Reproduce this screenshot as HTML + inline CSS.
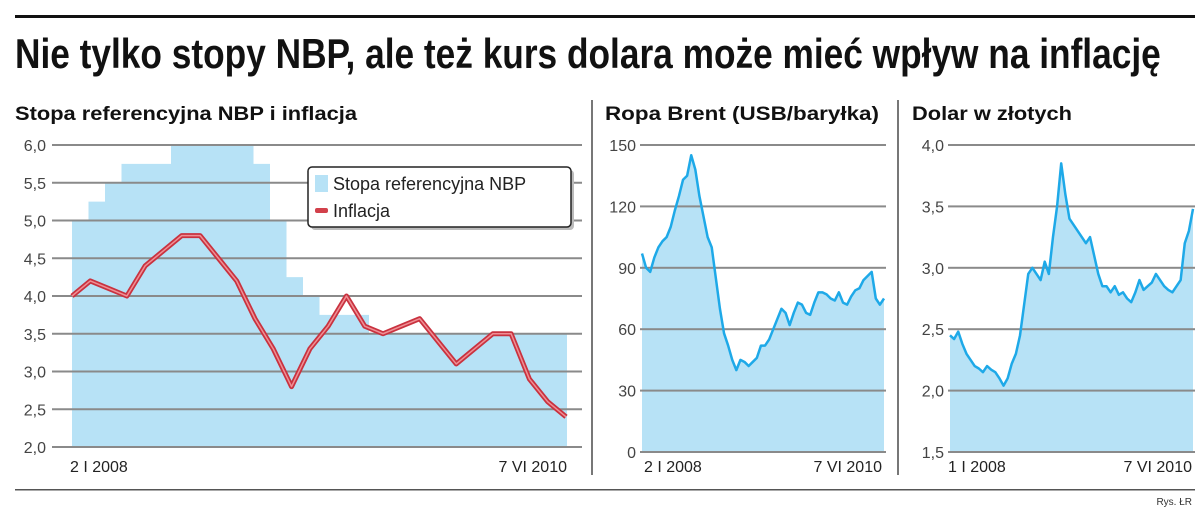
<!DOCTYPE html>
<html><head><meta charset="utf-8"><style>
html,body{margin:0;padding:0;background:#fff;width:1200px;height:513px;overflow:hidden}
svg{display:block;font-family:"Liberation Sans",sans-serif}
</style></head><body>
<svg id="root" width="1200" height="513" viewBox="0 0 1200 513">
<rect x="15" y="15" width="1180" height="3" fill="#111"/>
<text x="15" y="68" font-size="42" font-weight="bold" fill="#111" transform="translate(15 0) scale(0.84 1) translate(-15 0)">Nie tylko stopy NBP, ale też kurs dolara może mieć wpływ na inflację</text>
<text x="15" y="120" font-size="19" font-weight="bold" fill="#111" textLength="342" lengthAdjust="spacingAndGlyphs">Stopa referencyjna NBP i inflacja</text>
<text x="605" y="120" font-size="19" font-weight="bold" fill="#111" textLength="274" lengthAdjust="spacingAndGlyphs">Ropa Brent (USB/baryłka)</text>
<text x="912" y="120" font-size="19" font-weight="bold" fill="#111" textLength="160" lengthAdjust="spacingAndGlyphs">Dolar w złotych</text>
<rect x="591" y="100" width="2" height="375" fill="#777"/>
<rect x="897" y="100" width="2" height="375" fill="#777"/>
<rect x="15" y="489" width="1180" height="1.5" fill="#555"/>
<text x="1192" y="505" font-size="10" fill="#333" text-anchor="end">Rys. ŁR</text>
<g id="c1"></g><g id="c2"></g><g id="c3"></g>
</svg>
<script>
// Chart 1 data
const rateTicks = ["2,0","2,5","3,0","3,5","4,0","4,5","5,0","5,5","6,0"];
const rateMonthly = [5.0,5.25,5.5,5.75,5.75,5.75,6.0,6.0,6.0,6.0,6.0,5.75,5.0,4.25,4.0,3.75,3.75,3.75,3.5,3.5,3.5,3.5,3.5,3.5,3.5,3.5,3.5,3.5,3.5,3.5];
const inflation = [4.0,4.2,4.1,4.0,4.4,4.6,4.8,4.8,4.5,4.2,3.7,3.3,2.8,3.3,3.6,4.0,3.6,3.5,3.6,3.7,3.4,3.1,3.3,3.5,3.5,2.9,2.6,2.4];
const c1Dates = ["2 I 2008","7 VI 2010"];
// Chart 2 data
const oilTicks = ["0","30","60","90","120","150"];
const oil = [97,90,88,95,100,103,105,110,118,125,133,135,145,138,125,115,105,100,85,70,58,52,45,40,45,44,42,44,46,52,52,55,60,65,70,68,62,68,73,72,68,67,73,78,78,77,75,74,78,73,72,76,79,80,84,86,88,75,72,75];
const c2Dates = ["2 I 2008","7 VI 2010"];
// Chart 3 data
const usdTicks = ["1,5","2,0","2,5","3,0","3,5","4,0"];
const usd = [2.45,2.42,2.48,2.38,2.30,2.25,2.20,2.18,2.15,2.20,2.17,2.15,2.10,2.04,2.10,2.22,2.30,2.45,2.70,2.95,3.00,2.95,2.90,3.05,2.95,3.25,3.50,3.85,3.60,3.40,3.35,3.30,3.25,3.20,3.25,3.10,2.95,2.85,2.85,2.80,2.85,2.78,2.80,2.75,2.72,2.80,2.90,2.82,2.85,2.88,2.95,2.90,2.85,2.82,2.80,2.85,2.90,3.20,3.30,3.48];
const c3Dates = ["1 I 2008","7 VI 2010"];

const NS="http://www.w3.org/2000/svg";
function mk(parent,tag,attrs){const e=document.createElementNS(NS,tag);for(const k in attrs)e.setAttribute(k,attrs[k]);parent.appendChild(e);return e;}
const yTop=145,yBot=447;

function grid(g,x0,x1,ticks,lx,yb){
  ticks.forEach((t,i)=>{
    const y=yb-(yb-yTop)*i/(ticks.length-1);
    const l=mk(g,'rect',{x:x0,y:y-1,width:x1-x0,height:2,fill:'#8a8a8a'});
    
    
    const tx=mk(g,'text',{x:lx,y:y+6,'font-size':16,fill:'#444','text-anchor':'end'});
    tx.textContent=t;
    
    
  });
}
function dates(g,d,xa,xb,y){
  const a=mk(g,'text',{x:xa,y:y,'font-size':16,fill:'#222'});a.textContent=d[0];
  
  
  const b=mk(g,'text',{x:xb,y:y,'font-size':16,fill:'#222','text-anchor':'end'});b.textContent=d[1];
  
  
}

// Chart 1
(function(){
  const g=document.getElementById('c1');
  const x0=72,x1=567,vmin=2,vmax=6;
  const ys=v=>yBot-(v-vmin)/(vmax-vmin)*(yBot-yTop);
  const w=(x1-x0)/rateMonthly.length;
  let d=`M${x0},${yBot}`;
  rateMonthly.forEach((v,i)=>{d+=` L${x0+i*w},${ys(v)} L${x0+(i+1)*w},${ys(v)}`;});
  d+=` L${x1},${yBot} Z`;
  const a=mk(g,'path',{d:d,fill:'#b7e2f6'});
  
  
  grid(g,52,582,rateTicks,46,yBot);
  const xs=i=>x0+(x1-1-x0)*i/(inflation.length-1);
  const pts=inflation.map((v,i)=>`${xs(i)},${ys(v)}`).join(' ');
  const l1=mk(g,'polyline',{points:pts,fill:'none',stroke:'#c9323f','stroke-width':5,'stroke-linejoin':'round'});
  
  
  const l2=mk(g,'polyline',{points:pts,fill:'none',stroke:'#ef8f95','stroke-width':1.5,'stroke-linejoin':'round'});
  
  
  dates(g,c1Dates,70,567,472);
  const lg=mk(g,'g',{});
  
  
  mk(lg,'rect',{x:311,y:170,width:263,height:60,rx:4,fill:'#bbb'});
  const box=mk(lg,'rect',{x:308,y:167,width:263,height:60,rx:4,fill:'#fff',stroke:'#222','stroke-width':1.5});
  
  
  const sw=mk(lg,'rect',{x:315,y:175,width:13,height:17,fill:'#b7e2f6'});
  
  
  const t1=mk(lg,'text',{x:333,y:190,'font-size':18,fill:'#222'});t1.textContent='Stopa referencyjna NBP';
  
  
  const sw2=mk(lg,'rect',{x:315,y:208,width:13,height:5,rx:2,fill:'#d2404b'});
  
  
  const t2=mk(lg,'text',{x:333,y:217,'font-size':18,fill:'#222'});t2.textContent='Inflacja';
  
  
})();

// Chart 2
(function(){
  const g=document.getElementById('c2');
  const ys0=452;
  const ys=v=>ys0-(v-0)/150*(ys0-yTop);
  const x0=642,x1=884;
  const xs=i=>x0+(x1-x0)*i/(oil.length-1);
  let d=`M${x0},${ys0}`;oil.forEach((v,i)=>{d+=` L${xs(i)},${ys(v)}`;});d+=` L${x1},${ys0} Z`;
  const a=mk(g,'path',{d:d,fill:'#b7e2f6'});
  
  
  grid(g,x0-2,x1+2,oilTicks,636,ys0);
  const l=mk(g,'polyline',{points:oil.map((v,i)=>`${xs(i)},${ys(v)}`).join(' '),fill:'none',stroke:'#1ea9e8','stroke-width':2.5,'stroke-linejoin':'round'});
  
  
  dates(g,c2Dates,644,882,472);
})();
// Chart 3
(function(){
  const g=document.getElementById('c3');
  const ys0=452;
  const ys=v=>ys0-(v-1.5)/2.5*(ys0-yTop);
  const x0=950,x1=1193;
  const xs=i=>x0+(x1-x0)*i/(usd.length-1);
  let d=`M${x0},${ys0}`;usd.forEach((v,i)=>{d+=` L${xs(i)},${ys(v)}`;});d+=` L${x1},${ys0} Z`;
  const a=mk(g,'path',{d:d,fill:'#b7e2f6'});
  
  
  grid(g,x0-2,x1+2,usdTicks,944,ys0);
  const l=mk(g,'polyline',{points:usd.map((v,i)=>`${xs(i)},${ys(v)}`).join(' '),fill:'none',stroke:'#1ea9e8','stroke-width':2.5,'stroke-linejoin':'round'});
  
  
  dates(g,c3Dates,948,1192,472);
})();
</script>
</body></html>
